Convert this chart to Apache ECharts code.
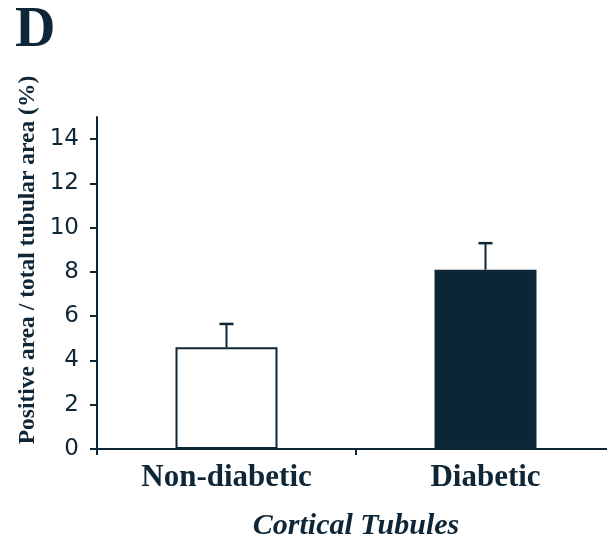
<!DOCTYPE html>
<html>
<head>
<meta charset="utf-8">
<script src="https://cdn.jsdelivr.net/npm/echarts@6/dist/echarts.min.js"></script>
<style>
  html, body { margin: 0; padding: 0; background: #fff; }
  #chart { width: 607px; height: 551px; }
</style>
</head>
<body>
<div id="chart"></div>
<script>
// data
var categories = ['Non-diabetic', 'Diabetic']
var means = [4.6, 8.1]
var errors = [1.05, 1.2]
var yTicks = [0, 2, 4, 6, 8, 10, 12, 14]

var ink = '#0f2636'
var chart = echarts.init(document.getElementById('chart'))

chart.setOption({
  animation: false,
  grid: {
    left: 97,
    width: 518,
    top: 117,
    bottom: 102,
    outerBoundsMode: 'none'
  },
  xAxis: {
    type: 'category',
    data: categories,
    name: 'Cortical Tubules',
    nameLocation: 'middle',
    nameGap: 62,
    nameTextStyle: {
      fontFamily: 'Liberation Serif',
      fontWeight: 'bold',
      fontStyle: 'italic',
      fontSize: 30,
      color: ink
    },
    axisLine: { lineStyle: { color: ink, width: 2 } },
    axisTick: { show: true, length: 6, lineStyle: { color: ink, width: 2 } },
    axisLabel: {
      margin: 13,
      fontFamily: 'Liberation Serif',
      fontWeight: 'bold',
      fontSize: 31,
      color: ink
    }
  },
  yAxis: {
    type: 'value',
    min: 0,
    max: 15,
    interval: 1,
    splitLine: { show: false },
    axisLine: { show: true, lineStyle: { color: ink, width: 2 } },
    axisTick: { show: true, length: 7, customValues: yTicks, lineStyle: { color: ink, width: 2 } },
    axisLabel: {
      customValues: yTicks,
      margin: 18,
      fontFamily: 'DejaVu Sans',
      fontSize: 23,
      color: ink
    }
  },
  graphic: [
    {
      type: 'text',
      left: 15,
      top: 4,
      style: {
        text: 'D',
        fontFamily: 'Liberation Serif',
        fontWeight: 'bold',
        fontSize: 56,
        fill: ink
      }
    },
    {
      type: 'text',
      x: 28,
      y: 260,
      rotation: Math.PI / 2,
      style: {
        text: 'Positive area / total tubular area (%)',
        fontFamily: 'Liberation Serif',
        fontWeight: 'bold',
        fontSize: 23.5,
        fill: ink,
        align: 'center',
        verticalAlign: 'middle'
      }
    }
  ],
  series: [
    {
      type: 'bar',
      barWidth: 102,
      data: means.map(function (v, i) {
        return {
          value: v,
          itemStyle: {
            color: i === 0 ? '#ffffff' : '#0c2638',
            borderColor: ink,
            borderWidth: 2
          }
        }
      }),
      z: 2
    },
    {
      type: 'custom',
      data: means.map(function (v, i) { return [i, v, v + errors[i]] }),
      renderItem: function (params, api) {
        var base = api.coord([api.value(0), api.value(1)])
        var top = api.coord([api.value(0), api.value(2)])
        var half = 7
        return {
          type: 'group',
          children: [
            {
              type: 'line',
              shape: { x1: base[0], y1: base[1], x2: top[0], y2: top[1] },
              style: { stroke: ink, lineWidth: 2 }
            },
            {
              type: 'line',
              shape: { x1: top[0] - half, y1: top[1], x2: top[0] + half, y2: top[1] },
              style: { stroke: ink, lineWidth: 2.5 }
            }
          ]
        }
      },
      z: 3
    }
  ]
})
</script>
</body>
</html>
